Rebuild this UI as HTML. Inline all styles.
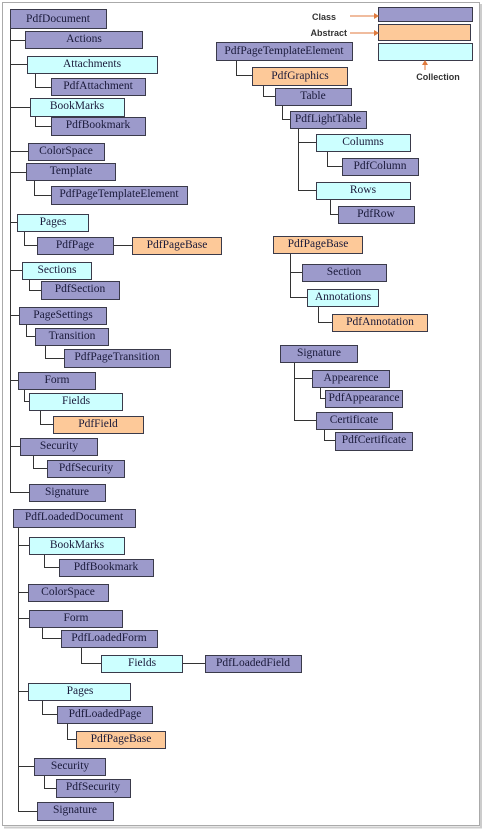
<!DOCTYPE html>
<html><head><meta charset="utf-8"><style>
html,body{margin:0;padding:0;background:#fff;}
svg{display:block;}
text{font-family:"Liberation Serif",serif;font-size:11.5px;fill:#1a1a3a;text-anchor:middle;}
.c{fill:#9c9acb;stroke:#3a3a4a;stroke-width:1;}
.a{fill:#fdc999;stroke:#3a3a4a;stroke-width:1;}
.l{fill:#ccffff;stroke:#3a3a4a;stroke-width:1;}
.k{fill:none;stroke:#333;stroke-width:1;}
.lg{font-family:"Liberation Sans",sans-serif;font-size:9px;font-weight:bold;fill:#333;}
</style></head><body>
<svg width="483" height="829" viewBox="0 0 483 829" xmlns="http://www.w3.org/2000/svg">
<rect x="2.5" y="2.5" width="477" height="823" fill="#fff" stroke="#aaa" stroke-width="1"/>
<line x1="481" y1="4" x2="481" y2="828" stroke="#ccc" stroke-width="2"/>
<line x1="4" y1="827.5" x2="482" y2="827.5" stroke="#ccc" stroke-width="2"/>

<path class="k" d="M10.5 28V492.5H29 M10.5 40.5H25 M10.5 64.5H27 M10.5 107.5H30 M10.5 151.5H28 M10.5 172.5H26 M10.5 222.5H17 M10.5 270.5H22 M10.5 315.5H19 M10.5 380.5H18 M10.5 446.5H20"/>
<path class="k" d="M35.5 73V87.5H51 M35.5 116V126.5H51 M34.5 180V195.5H51 M24.5 231V245.5H37 M113 245.5H132 M29.5 279V290.5H41 M26.5 324V336.5H35 M45.5 345V358.5H64 M24.5 389V401.5H29 M40.5 410V424.5H53 M33.5 455V468.5H47"/>
<path class="k" d="M18.5 527V811.5H37 M18.5 545.5H29 M18.5 592.5H28 M18.5 618.5H29 M18.5 691.5H28 M18.5 766.5H34"/>
<path class="k" d="M44.5 554V567.5H59 M42.5 627V638.5H61 M81.5 647V663.5H101 M182 663.5H205 M42.5 700V714.5H57 M67.5 723V739.5H76 M44.5 775V788.5H56"/>
<path class="k" d="M236.5 60V75.5H252 M263.5 85V96.5H275 M282.5 105V119.5H290 M298.5 128V190.5H316 M298.5 142.5H316 M327.5 151V166.5H342 M330.5 199V214.5H338"/>
<path class="k" d="M290.5 253V297.5H307 M290.5 272.5H302 M318.5 306V322.5H332"/>
<path class="k" d="M294.5 362V420.5H316 M294.5 378.5H312 M320.5 387V398.5H325 M324.5 429V440.5H335"/>

<rect class="c" x="378.5" y="7.5" width="94" height="14"/>
<rect class="a" x="378.5" y="24.5" width="92" height="16"/>
<rect class="l" x="378.5" y="43.5" width="94" height="17"/>
<text class="lg" x="336" y="20" style="text-anchor:end">Class</text>
<text class="lg" x="347" y="36" style="text-anchor:end">Abstract</text>
<text class="lg" x="438" y="80">Collection</text>
<path d="M350 16H378 M350 33H378 M425 70V61" stroke="#e07a3c" stroke-width="1" fill="none"/>
<path d="M374 13L379 16L374 19Z M374 30L379 33L374 36Z M422 65L425 60L428 65Z" fill="#e07a3c"/>

<rect class="c" x="10.5" y="9.5" width="96" height="19"/><text x="58" y="22">PdfDocument</text>
<rect class="c" x="25.5" y="31.5" width="117" height="17"/><text x="84" y="42">Actions</text>
<rect class="l" x="27.5" y="56.5" width="130" height="17"/><text x="92" y="67">Attachments</text>
<rect class="c" x="51.5" y="78.5" width="94" height="17"/><text x="98" y="89">PdfAttachment</text>
<rect class="l" x="30.5" y="98.5" width="94" height="18"/><text x="77" y="109">BookMarks</text>
<rect class="c" x="51.5" y="117.5" width="94" height="18"/><text x="98" y="128">PdfBookmark</text>
<rect class="c" x="28.5" y="143.5" width="76" height="17"/><text x="66" y="154">ColorSpace</text>
<rect class="c" x="26.5" y="163.5" width="89" height="17"/><text x="71" y="174">Template</text>
<rect class="c" x="51.5" y="186.5" width="136" height="18"/><text x="119" y="197">PdfPageTemplateElement</text>
<rect class="l" x="17.5" y="214.5" width="71" height="17"/><text x="53" y="225">Pages</text>
<rect class="c" x="37.5" y="237.5" width="76" height="17"/><text x="75" y="248">PdfPage</text>
<rect class="a" x="132.5" y="237.5" width="89" height="17"/><text x="177" y="248">PdfPageBase</text>
<rect class="l" x="22.5" y="262.5" width="69" height="17"/><text x="57" y="273">Sections</text>
<rect class="c" x="41.5" y="281.5" width="78" height="18"/><text x="80" y="292">PdfSection</text>
<rect class="c" x="19.5" y="307.5" width="87" height="17"/><text x="63" y="318">PageSettings</text>
<rect class="c" x="35.5" y="328.5" width="73" height="17"/><text x="72" y="339">Transition</text>
<rect class="c" x="64.5" y="349.5" width="106" height="18"/><text x="117" y="360">PdfPageTransition</text>
<rect class="c" x="18.5" y="372.5" width="77" height="17"/><text x="57" y="383">Form</text>
<rect class="l" x="29.5" y="393.5" width="93" height="17"/><text x="76" y="404">Fields</text>
<rect class="a" x="53.5" y="416.5" width="90" height="17"/><text x="98" y="427">PdfField</text>
<rect class="c" x="20.5" y="438.5" width="77" height="17"/><text x="59" y="449">Security</text>
<rect class="c" x="47.5" y="460.5" width="77" height="17"/><text x="86" y="471">PdfSecurity</text>
<rect class="c" x="29.5" y="484.5" width="76" height="17"/><text x="67" y="495">Signature</text>

<rect class="c" x="13.5" y="509.5" width="122" height="18"/><text x="74" y="520">PdfLoadedDocument</text>
<rect class="l" x="29.5" y="537.5" width="95" height="17"/><text x="77" y="548">BookMarks</text>
<rect class="c" x="59.5" y="559.5" width="94" height="17"/><text x="106" y="570">PdfBookmark</text>
<rect class="c" x="28.5" y="584.5" width="80" height="17"/><text x="68" y="595">ColorSpace</text>
<rect class="c" x="29.5" y="610.5" width="93" height="17"/><text x="76" y="621">Form</text>
<rect class="c" x="61.5" y="630.5" width="96" height="17"/><text x="109" y="641">PdfLoadedForm</text>
<rect class="l" x="101.5" y="655.5" width="81" height="17"/><text x="142" y="666">Fields</text>
<rect class="c" x="205.5" y="655.5" width="96" height="17"/><text x="253" y="666">PdfLoadedField</text>
<rect class="l" x="28.5" y="683.5" width="102" height="17"/><text x="80" y="694">Pages</text>
<rect class="c" x="57.5" y="706.5" width="95" height="17"/><text x="105" y="717">PdfLoadedPage</text>
<rect class="a" x="76.5" y="731.5" width="89" height="17"/><text x="121" y="742">PdfPageBase</text>
<rect class="c" x="34.5" y="758.5" width="71" height="17"/><text x="70" y="769">Security</text>
<rect class="c" x="56.5" y="779.5" width="74" height="18"/><text x="93" y="790">PdfSecurity</text>
<rect class="c" x="37.5" y="802.5" width="76" height="18"/><text x="75" y="813">Signature</text>

<rect class="c" x="216.5" y="42.5" width="136" height="18"/><text x="284" y="54">PdfPageTemplateElement</text>
<rect class="a" x="252.5" y="67.5" width="95" height="18"/><text x="300" y="79">PdfGraphics</text>
<rect class="c" x="275.5" y="88.5" width="76" height="17"/><text x="313" y="99">Table</text>
<rect class="c" x="290.5" y="111.5" width="76" height="17"/><text x="328" y="122">PdfLightTable</text>
<rect class="l" x="316.5" y="134.5" width="94" height="17"/><text x="363" y="145">Columns</text>
<rect class="c" x="342.5" y="158.5" width="76" height="17"/><text x="380" y="169">PdfColumn</text>
<rect class="l" x="316.5" y="182.5" width="94" height="17"/><text x="363" y="193">Rows</text>
<rect class="c" x="338.5" y="206.5" width="76" height="17"/><text x="376" y="217">PdfRow</text>
<rect class="a" x="273.5" y="236.5" width="89" height="17"/><text x="318" y="247">PdfPageBase</text>
<rect class="c" x="302.5" y="264.5" width="84" height="17"/><text x="344" y="275">Section</text>
<rect class="l" x="307.5" y="289.5" width="71" height="17"/><text x="343" y="300">Annotations</text>
<rect class="a" x="332.5" y="314.5" width="95" height="17"/><text x="380" y="325">PdfAnnotation</text>
<rect class="c" x="280.5" y="345.5" width="77" height="17"/><text x="319" y="356">Signature</text>
<rect class="c" x="312.5" y="370.5" width="77" height="17"/><text x="351" y="381">Appearence</text>
<rect class="c" x="325.5" y="390.5" width="77" height="17"/><text x="364" y="401">PdfAppearance</text>
<rect class="c" x="316.5" y="412.5" width="76" height="17"/><text x="354" y="423">Certificate</text>
<rect class="c" x="335.5" y="432.5" width="77" height="18"/><text x="374" y="443">PdfCertificate</text>
</svg>
</body></html>
